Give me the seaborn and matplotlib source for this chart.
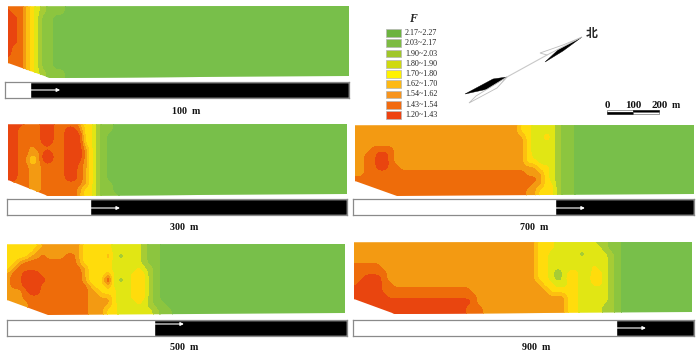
import numpy as np
import matplotlib
matplotlib.use("Agg")
import matplotlib.pyplot as plt
import seaborn as sns
from matplotlib.patches import Polygon, Rectangle

# F classes, low to high
F_levels = [1.20, 1.43, 1.54, 1.62, 1.70, 1.80, 1.90, 2.03, 2.17, 2.27]
F_labels = ["2.17~2.27", "2.03~2.17", "1.90~2.03", "1.80~1.90", "1.70~1.80",
            "1.62~1.70", "1.54~1.62", "1.43~1.54", "1.20~1.43"]
map_colors = ["#e9450f", "#ee6c0a", "#f39a12", "#fdc010", "#ffdc0c",
              "#e1e614", "#a6cc35", "#8cc53f", "#78bf4a"]
legend_colors = ["#6cb33f", "#7dbb42", "#a0c629", "#cfd90f", "#fff200",
                 "#fdb913", "#f7941d", "#f26a0f", "#ee4210"]

# Class read at each grid node (digit = class, 1 lowest), rows every 6 px, columns every 6 px
f100 = ["22235678889", "12235678889", "112356889", "112356889", "112356889",
        "112356889", "112356889", "122356889", "122356889", "222356889",
        "222356889", "22235678889", "22235678889"]
f300 = ["1112221122223557889", "1122221122112557889", "1122221122111557899",
        "1122221122111557899", "1122322222111357899", "1122331122111357899",
        "1122531122111357899", "1122332222112357899", "1122332222112357899",
        "1122332222112357899", "2222332222222357889", "2222332222223557889",
        "2222222222223557888"]
f500 = ["555555" + "3333333" + "55555" + "66666" + "7889",
        "55555" + "3" * 8 + "55555" + "66666" + "7889",
        "555533233322355553676567889",
        "553" + "2" * 9 + "3" + "55555" + "66666" + "7889",
        "53" + "2" * 11 + "3" + "5555" + "6666" + "56789",
        "322111" + "2" * 7 + "3" + "555" + "3" + "666" + "555" + "789",
        "3221111" + "2" * 6 + "3" + "5631" + "676" + "555" + "789",
        "322111" + "2" * 8 + "3553" + "666" + "555" + "789",
        "33321122222222" + "33" + "555" + "66" + "555" + "789",
        "333" + "2" * 11 + "3333" + "576" + "555" + "789",
        "3333" + "2" * 10 + "3333" + "5666" + "56" + "7889",
        "3333" + "2" * 10 + "333" + "55" + "666666" + "7889",
        "3333" + "2" * 10 + "333" + "55" + "666666" + "7889"]
f700 = ["3" * 28 + "5566667889",
        "3" * 28 + "5566667889",
        "3" * 28 + "3566467889",
        "3" * 28 + "3566667889",
        "3332222" + "3" * 21 + "3566667889",
        "33221123" + "3" * 20 + "3566667889",
        "33221123" + "3" * 20 + "3556667889",
        "33221122" + "3" * 20 + "3335567889",
        "33" + "2" * 27 + "333567889",
        "2" * 31 + "3567889",
        "2" * 30 + "33557889",
        "2" * 29 + "335557889",
        "2" * 29 + "335557889"]
f900 = ["3" * 31 + "555" + "6" * 7 + "77889",
        "3" * 31 + "555" + "6" * 8 + "7889",
        "3" * 31 + "55" + "666" + "567" + "6666" + "789",
        "3" * 31 + "55" + "6" * 10 + "789",
        "22222" + "3" * 26 + "55" + "6" * 7 + "5" + "66" + "789",
        "222222" + "3" * 25 + "55" + "676" + "55" + "66" + "55" + "6789",
        "221112" + "3" * 25 + "55" + "676" + "45" + "66" + "45" + "6789",
        "21111" + "22" + "3" * 24 + "3" + "55" + "66" + "55" + "66" + "55" + "6789",
        "11111" + "2" * 15 + "3" * 13 + "55555" + "66666" + "789",
        "111111" + "2" * 15 + "3" * 15 + "55" + "66666" + "789",
        "1" * 20 + "2" + "3" * 15 + "55" + "66666" + "789",
        "1" * 19 + "222" + "3" * 14 + "55" + "6666" + "7789",
        "1" * 19 + "222" + "3" * 14 + "55" + "6666" + "7789"]

distances = ["100 m", "300 m", "500 m", "700 m", "900 m"]
grids = [f100, f300, f500, f700, f900]
# share of the section already excavated
progress = [0.073, 0.244, 0.432, 0.592, 0.771]

# pixel layout: map left, top, width, height, lower-left cut, bar box, label centre
layout = [
    dict(x=8, y=6, w=341, h=72, cut=(42, 57), bar=(5, 82, 344, 16), lab=(186, 112), ay=90),
    dict(x=8, y=124, w=339, h=72, cut=(40, 56), bar=(7, 199, 340, 16), lab=(184, 228), ay=208),
    dict(x=7, y=244, w=338, h=71, cut=(41, 56), bar=(7, 320, 340, 16), lab=(184, 348), ay=324),
    dict(x=355, y=125, w=339, h=71, cut=(42, 56), bar=(353, 199, 341, 16), lab=(534, 227), ay=208),
    dict(x=354, y=242, w=338, h=72, cut=(41, 57), bar=(353, 320, 341, 16), lab=(536, 347), ay=328),
]

sns.set_theme(style="white")
plt.rcParams["font.family"] = ["Liberation Serif", "Noto Sans CJK SC"]

W, H = 700, 353
fig = plt.figure(figsize=(W / 100, H / 100), dpi=100)


def px_axes(x, y, w, h):
    return fig.add_axes([x / W, 1 - (y + h) / H, w / W, h / H])


def smooth(z, xs, ys, fx, fy):
    # only rounds the corners of the drawn contours, the node readings stay as they are
    fine = np.array([np.interp(fx, xs, row) for row in z])
    fine = np.array([np.interp(fy, ys, col) for col in fine.T]).T
    k = np.array([1, 2, 3, 2, 1]) / 9
    pad = np.pad(fine, 2, mode="edge")
    pad = np.apply_along_axis(lambda v: np.convolve(v, k, mode="same"), 0, pad)
    pad = np.apply_along_axis(lambda v: np.convolve(v, k, mode="same"), 1, pad)
    return pad[2:-2, 2:-2]


def draw_map(p, rows):
    ax = px_axes(p["x"], p["y"], p["w"], p["h"])
    ncol = 62
    z = np.array([[F_mid[int(c) - 1] for c in r.ljust(ncol, "9")] for r in rows])
    xs = np.arange(ncol) * 6.0
    ys = np.arange(len(rows)) * 6.0
    fx = np.arange(0, xs[-1] + 1, 2.0)
    fy = np.arange(0, ys[-1] + 1, 2.0)
    cs = ax.contourf(fx, fy, smooth(z, xs, ys, fx, fy), levels=F_levels, colors=map_colors)
    cs.set_edgecolor("face")
    cs.set_linewidth(0.3)
    ax.set_xlim(0, p["w"])
    ax.set_ylim(p["h"], 0)
    ax.set_axis_off()
    cx, cy = p["cut"]
    outline = Polygon([(0, 0.5), (p["w"], 0), (p["w"], p["h"] - 2), (cx, p["h"]), (0, cy)],
                      transform=ax.transData, facecolor="none", edgecolor="none")
    ax.add_patch(outline)
    cs.set_clip_path(outline)


def draw_bar(p, frac):
    x, y, w, h = p["bar"]
    ax = px_axes(x, y, w, h)
    sns.barplot(x=[1.0], y=[0], orient="h", color="black", saturation=1, width=1, ax=ax)
    sns.barplot(x=[frac], y=[0], orient="h", color="white", saturation=1, width=1, ax=ax)
    ax.set_xlim(0, 1)
    ax.set_ylim(0.5, -0.5)
    ax.set_xticks([])
    ax.set_yticks([])
    ax.set_xlabel("")
    ax.set_ylabel("")
    for s in ax.spines.values():
        s.set_visible(True)
        s.set_color("#8a8a8a")
        s.set_linewidth(0.9)


F_mid = [(a + b) / 2 for a, b in zip(F_levels[:-1], F_levels[1:])]

for p, rows, frac in zip(layout, grids, progress):
    draw_map(p, rows)
    draw_bar(p, frac)

# overlay in pixels for legend, labels, north arrow and scale
ov = fig.add_axes([0, 0, 1, 1], facecolor="none")
ov.set_xlim(0, W)
ov.set_ylim(H, 0)
ov.set_axis_off()

for p, d, frac in zip(layout, distances, progress):
    bx, by, bw, bh = p["bar"]
    x0 = bx + frac * bw + 1
    ov.annotate("", xy=(x0 + 29, p["ay"]), xytext=(x0, p["ay"]),
                arrowprops=dict(arrowstyle="-|>", color="white", lw=0.8,
                                mutation_scale=5, shrinkA=0, shrinkB=0))
    ov.text(p["lab"][0], p["lab"][1], d.replace(" ", "  "), ha="center", va="center",
            fontsize=7.2, fontweight="bold", color="#111111")

ov.text(413, 19, "F", ha="center", va="center", fontsize=8.5, style="italic", fontweight="bold")
for i, (lab, col) in enumerate(zip(F_labels, legend_colors)):
    yc = 33 + i * 10.25
    ov.add_patch(Rectangle((386, yc - 3.8), 15, 7.6, facecolor=col, edgecolor="#b5b5b5", lw=0.5))
    ov.text(405, yc, lab, ha="left", va="center", fontsize=5.8, color="#222222")

# north arrow
ov.plot([507, 547], [77, 55], color="#c8c8c8", lw=0.8)
ov.add_patch(Polygon([(465, 94), (493, 79), (507, 77), (497, 87)], facecolor="black", edgecolor="black", lw=0.3))
ov.add_patch(Polygon([(507, 77), (497, 88), (469, 103), (476, 96)], facecolor="white", edgecolor="#bdbdbd", lw=0.6))
ov.add_patch(Polygon([(582, 37), (558, 50), (545, 62), (563, 51)], facecolor="black", edgecolor="black", lw=0.3))
ov.add_patch(Polygon([(582, 37), (563, 45), (540, 53), (547, 55)], facecolor="white", edgecolor="#bdbdbd", lw=0.6))
ov.text(592, 33, "北", ha="center", va="center", fontsize=8.5, fontweight="bold",
        family=["Noto Sans CJK SC", "DejaVu Sans"])

# scale bar
for x, lab in zip([607, 633, 660], ["0", "100", "200"]):
    ov.text(x, 105, lab, ha="center", va="center", fontsize=7.8, fontweight="bold", color="#111111")
ov.text(676, 105.5, "m", ha="center", va="center", fontsize=7, fontweight="bold", color="#111111")
ov.add_patch(Rectangle((607, 110), 26, 2, facecolor="white", edgecolor="#555555", lw=0.4))
ov.add_patch(Rectangle((607, 112), 26, 2, facecolor="black", edgecolor="black", lw=0.4))
ov.add_patch(Rectangle((633, 110), 26, 2, facecolor="black", edgecolor="black", lw=0.4))
ov.add_patch(Rectangle((633, 112), 26, 2, facecolor="white", edgecolor="#555555", lw=0.4))

fig.savefig("out.png", dpi=100, facecolor="white")
